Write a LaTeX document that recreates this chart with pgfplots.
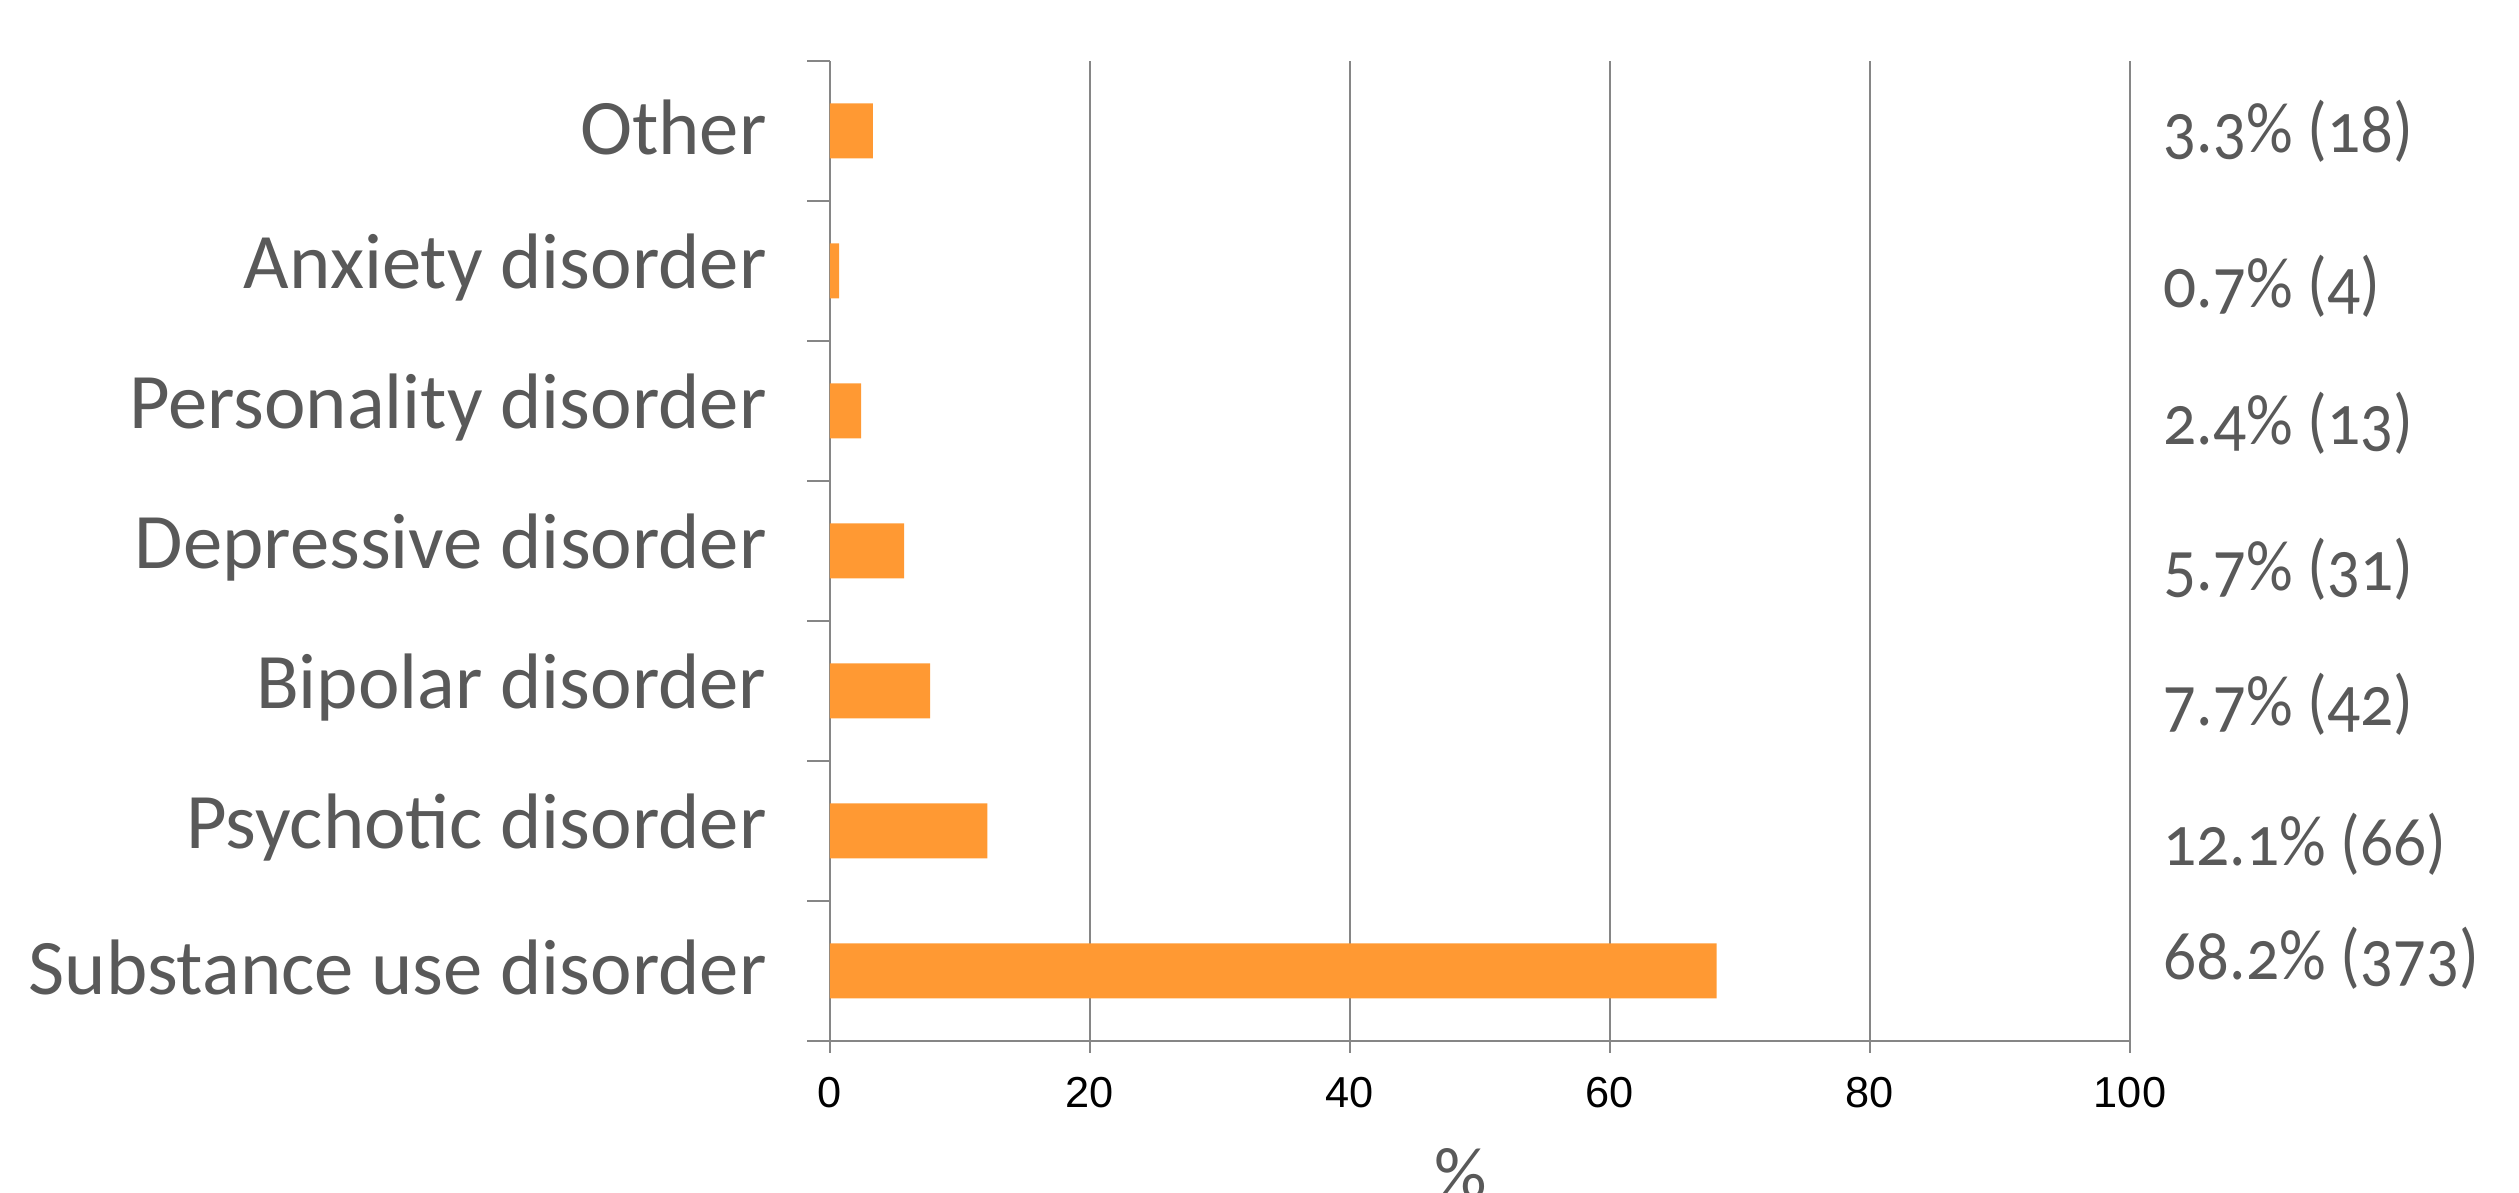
\documentclass[border=0pt]{standalone}
\usepackage{fontspec}
\usepackage{pgfplots}
\pgfplotsset{compat=1.18}
\setmainfont{Carlito}
\newfontfamily\tickfont{Liberation Sans}
\newfontfamily\valfont{Carlito}[Numbers=OldStyle]
\definecolor{barorange}{RGB}{255,153,51}
\definecolor{txtgray}{RGB}{89,89,89}
\definecolor{linegray}{RGB}{134,134,134}
\newcommand{\val}[1]{\scalebox{0.91}[1]{#1}}

\begin{document}
\begin{tikzpicture}
\begin{axis}[
  at={(0,0)}, anchor=south west,
  width=390pt, height=294pt, scale only axis,
  xbar, bar width=16.5pt,
  xmin=0, xmax=100, ymin=-0.5, ymax=6.5,
  xtick={0,20,...,100},
  ytick={0,...,6},
  yticklabels={Substance use disorder, Psychotic disorder, Bipolar disorder, Depressive disorder, Personality disorder, Anxiety disorder, Other},
  minor ytick={-0.5,0.5,...,6.5},
  axis x line*=bottom, axis y line*=left,
  axis line style={linegray, line width=0.8pt},
  tick align=outside,
  major tick length=3.5pt, minor tick length=6.8pt,
  every major y tick/.style={draw=none},
  every minor y tick/.style={linegray, line width=0.8pt},
  every major x tick/.style={linegray, line width=0.8pt},
  xmajorgrids, grid style={linegray, line width=0.6pt},
  /pgf/number format/assume math mode=true,
  xticklabel style={font=\tickfont\fontsize{13}{13}\selectfont, text=black, yshift=-3.9pt},
  yticklabel style={font=\fontsize{23.6}{23.6}\selectfont, text=txtgray, xshift=-12pt, yshift=1pt},
  clip=false,
]
% share of patients, by main diagnosis
\addplot[fill=barorange, draw=none] coordinates {
  (68.2,0) (12.1,1) (7.7,2) (5.7,3) (2.4,4) (0.7,5) (3.3,6)
};

\begin{scope}[every node/.style={anchor=west, inner sep=0pt, xshift=9.9pt,
    text=txtgray, font=\valfont\fontsize{21.5}{21.5}\selectfont}]
\node at (axis cs:100,6.0)   {\val{3.3\% (18)}};
\node at (axis cs:100,4.893) {\val{0.7\% (4)}};
\node at (axis cs:100,3.914) {\val{2.4\% (13)}};
\node at (axis cs:100,2.871) {\val{5.7\% (31)}};
\node at (axis cs:100,1.907) {\val{7.7\% (42)}};
\node at (axis cs:100,0.907) {\val{12.1\% (66)}};
\node at (axis cs:100,0.093) {\val{68.2\% (373)}};
\end{scope}

\node[inner sep=0pt, yshift=-40.8pt, text=txtgray,
  font=\valfont\fontsize{22}{22}\selectfont] at (axis cs:48.5,-0.5) {\%\vphantom{(}};
\end{axis}
\pgfresetboundingbox
\path[use as bounding box] (-249pt,-45.6pt) rectangle (506.7pt,312.3pt);
\end{tikzpicture}
\end{document}
